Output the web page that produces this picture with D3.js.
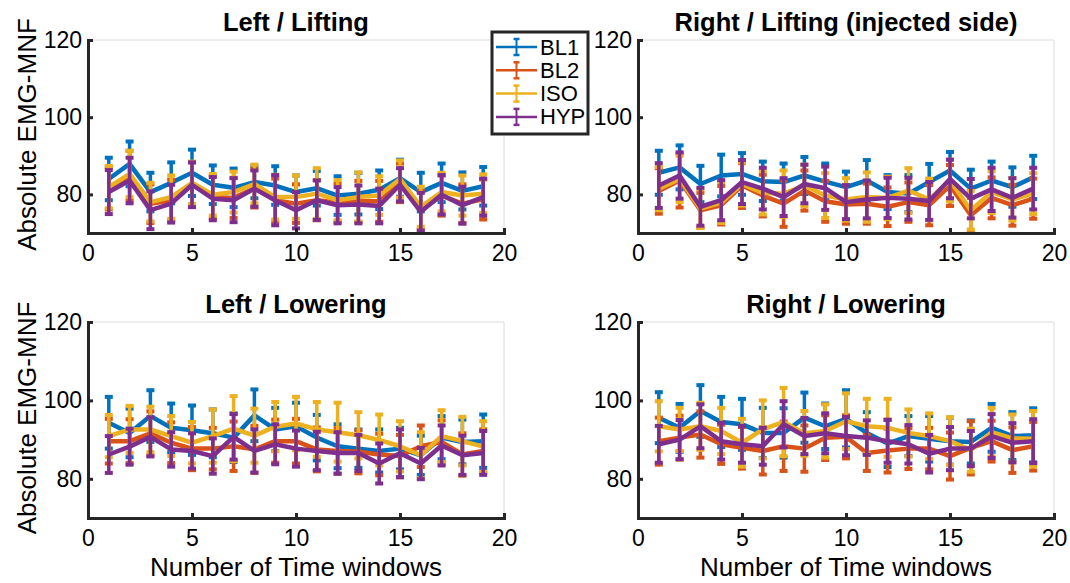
<!DOCTYPE html>
<html>
<head>
<meta charset="utf-8">
<script src="https://cdn.jsdelivr.net/npm/d3@7"></script>
<style>
  body { margin: 0; background: #fff; }
  text { font-family: "Liberation Sans", Arial, Helvetica, sans-serif; }
</style>
</head>
<body>
<svg id="chart" width="1070" height="583"></svg>
<script>
// ---- data -------------------------------------------------------------
const windows = [1, 2, 3, 4, 5, 6, 7, 8, 9, 10, 11, 12, 13, 14, 15, 16, 17, 18, 19];
const seriesNames = ["BL1", "BL2", "ISO", "HYP"];
const panelTitles = ["Left / Lifting", "Right / Lifting (injected side)", "Left / Lowering", "Right / Lowering"];
const xTickValues = [0, 5, 10, 15, 20];
const yTickValues = [80, 100, 120];
const yLabel = "Absolute EMG-MNF";
const xLabel = "Number of Time windows";

// Left / Lifting
const leftLiftBL1 = [84.0, 87.9, 80.6, 83.0, 85.6, 82.5, 81.7, 83.2, 82.3, 80.6, 81.6, 79.7, 80.2, 81.2, 84.2, 80.6, 83.0, 80.9, 82.1];
const leftLiftBL1Err = [5.5, 5.8, 5.0, 5.3, 6.0, 5.0, 5.0, 4.2, 5.0, 4.3, 4.5, 5.0, 5.4, 5.0, 4.8, 5.0, 5.0, 4.8, 5.0];
const leftLiftBL2 = [81.6, 84.9, 77.6, 78.5, 82.7, 79.3, 79.1, 81.6, 78.5, 77.6, 78.5, 77.9, 78.2, 78.2, 83.0, 75.9, 79.7, 77.6, 78.7];
const leftLiftBL2Err = [5.5, 6.4, 5.0, 5.3, 5.6, 5.5, 5.2, 5.0, 5.6, 5.0, 5.2, 5.0, 5.3, 5.3, 5.0, 5.0, 5.2, 5.0, 5.2];
const leftLiftISO = [81.9, 85.3, 78.0, 79.3, 83.0, 79.9, 80.6, 82.7, 79.3, 79.3, 80.2, 78.5, 79.3, 79.7, 84.0, 76.8, 80.6, 79.7, 80.2];
const leftLiftISOErr = [5.5, 6.0, 5.0, 5.6, 5.5, 5.4, 5.3, 5.0, 5.8, 5.6, 6.6, 5.2, 6.4, 5.0, 4.8, 5.2, 5.0, 5.2, 5.0];
const leftLiftHYP = [80.6, 83.6, 75.9, 77.6, 82.5, 78.9, 78.5, 81.5, 78.5, 75.9, 78.5, 77.2, 77.4, 77.0, 82.5, 75.5, 79.9, 77.2, 79.3];
const leftLiftHYPErr = [5.7, 5.9, 4.9, 4.9, 5.8, 5.6, 5.7, 4.7, 6.5, 4.7, 5.1, 4.7, 4.9, 4.5, 4.3, 4.9, 5.1, 4.8, 4.8];

// Right / Lifting (injected side)
const rightLiftBL1 = [85.6, 87.0, 82.7, 84.9, 85.3, 83.4, 83.2, 84.9, 83.3, 81.9, 83.6, 80.6, 80.2, 83.2, 86.2, 81.5, 83.6, 81.9, 84.4];
const rightLiftBL1Err = [5.7, 5.7, 4.7, 5.4, 5.4, 5.1, 4.8, 4.8, 4.7, 4.0, 5.3, 4.4, 4.8, 4.7, 4.8, 4.9, 4.9, 5.1, 5.6];
const rightLiftBL2 = [80.9, 83.6, 75.9, 77.2, 82.3, 79.7, 77.6, 81.0, 78.2, 77.4, 77.6, 76.8, 78.0, 77.2, 82.3, 74.6, 79.1, 77.2, 78.9];
const rightLiftBL2Err = [5.9, 7.0, 4.5, 5.0, 5.8, 5.4, 6.0, 5.2, 5.3, 5.0, 5.2, 5.0, 5.1, 5.2, 5.3, 4.5, 5.3, 5.3, 5.2];
const rightLiftISO = [81.5, 84.0, 76.3, 77.9, 82.7, 80.4, 80.2, 82.3, 79.7, 78.7, 79.3, 79.1, 81.0, 78.7, 83.6, 75.9, 80.6, 78.7, 80.2];
const rightLiftISOErr = [5.6, 6.0, 5.0, 5.3, 5.6, 5.6, 6.0, 5.4, 5.8, 5.5, 6.4, 5.5, 5.8, 5.4, 5.4, 5.0, 5.4, 5.5, 5.3];
const rightLiftHYP = [82.3, 84.9, 76.8, 78.5, 83.2, 81.5, 79.3, 82.7, 81.6, 78.0, 78.7, 79.1, 78.9, 78.3, 84.0, 78.9, 81.3, 79.1, 81.5];
const rightLiftHYPErr = [5.8, 6.0, 4.9, 5.2, 5.7, 5.4, 4.9, 5.0, 5.6, 4.4, 4.9, 5.2, 5.4, 4.9, 5.0, 5.1, 5.6, 5.1, 5.4];

// Left / Lowering
const leftLowBL1 = [94.3, 91.7, 96.0, 93.0, 92.4, 91.6, 90.5, 96.2, 92.6, 93.4, 90.5, 88.3, 87.7, 87.1, 87.7, 86.0, 90.5, 89.4, 89.6];
const leftLowBL1Err = [6.6, 6.2, 6.6, 6.2, 6.3, 6.1, 6.2, 6.6, 5.5, 6.0, 5.8, 5.6, 4.9, 5.5, 5.3, 5.0, 5.5, 5.7, 6.8];
const leftLowBL2 = [89.6, 89.6, 91.6, 89.2, 87.7, 87.7, 88.3, 87.5, 89.6, 89.6, 87.5, 87.1, 86.9, 86.2, 85.8, 88.3, 89.4, 86.2, 87.1];
const leftLowBL2Err = [5.7, 5.6, 5.6, 5.2, 5.5, 5.3, 6.3, 6.0, 5.5, 5.7, 5.6, 5.8, 5.5, 5.3, 5.4, 5.3, 5.5, 5.4, 5.5];
const leftLowISO = [90.9, 92.6, 92.6, 90.9, 89.2, 90.9, 92.8, 91.0, 93.3, 94.1, 92.6, 91.9, 91.1, 89.9, 88.3, 86.0, 90.9, 89.6, 88.2];
const leftLowISOErr = [5.4, 6.0, 5.8, 5.1, 5.3, 6.8, 8.3, 6.9, 6.3, 6.8, 7.0, 7.5, 5.9, 6.5, 6.4, 5.9, 6.6, 6.2, 6.5];
const leftLowHYP = [86.2, 88.2, 90.7, 87.5, 87.1, 85.8, 90.7, 87.1, 88.8, 87.7, 87.1, 86.6, 86.6, 83.9, 86.5, 83.9, 88.5, 86.0, 86.6];
const leftLowHYPErr = [4.7, 4.6, 5.0, 4.4, 4.5, 4.5, 5.8, 5.5, 5.1, 4.6, 4.9, 5.3, 4.6, 5.1, 6.1, 4.0, 5.1, 5.0, 5.6];

// Right / Lowering
const rightLowBL1 = [95.6, 93.0, 97.3, 94.5, 93.9, 91.7, 91.7, 95.6, 93.4, 95.3, 91.7, 89.0, 90.9, 90.2, 89.6, 89.4, 93.0, 90.9, 91.1];
const rightLowBL1Err = [6.5, 6.1, 6.6, 6.4, 6.5, 6.4, 6.3, 6.4, 5.8, 7.3, 5.3, 6.0, 5.1, 5.8, 6.0, 5.5, 6.1, 6.1, 6.9];
const rightLowBL2 = [89.6, 90.5, 91.3, 88.8, 87.9, 87.1, 88.3, 87.7, 90.5, 90.7, 86.6, 87.2, 87.7, 87.7, 85.8, 87.9, 89.6, 87.3, 88.3];
const rightLowBL2Err = [6.0, 5.6, 5.9, 5.0, 5.3, 6.0, 6.3, 5.9, 5.7, 5.5, 4.6, 5.6, 5.2, 5.3, 6.0, 6.8, 5.2, 5.8, 6.2];
const rightLowISO = [93.4, 92.6, 93.4, 92.2, 89.2, 92.6, 94.5, 91.6, 92.2, 94.7, 93.4, 93.0, 91.7, 90.9, 89.6, 87.3, 91.9, 90.3, 90.2];
const rightLowISOErr = [6.4, 5.5, 6.0, 5.9, 6.1, 7.4, 8.7, 5.7, 6.8, 7.1, 7.0, 7.4, 6.0, 5.8, 6.1, 5.5, 6.2, 6.1, 7.1];
const rightLowHYP = [88.8, 90.0, 93.4, 89.6, 88.8, 88.3, 93.9, 90.9, 91.6, 90.9, 90.5, 89.6, 88.8, 86.4, 87.7, 87.7, 90.9, 89.2, 89.6];
const rightLowHYPErr = [4.7, 5.0, 5.6, 4.7, 4.7, 4.7, 5.9, 4.6, 5.1, 4.9, 4.4, 5.5, 4.9, 4.8, 5.5, 4.5, 5.6, 5.0, 5.6];

// ---- appearance -------------------------------------------------------
const seriesColors = ["#0072BD", "#D95319", "#EDB120", "#7E2F8E"];
const axisColor = "#262626";
const boxColor = "#dcdcdc";

const panelData = [
  [[leftLiftBL1, leftLiftBL1Err], [leftLiftBL2, leftLiftBL2Err], [leftLiftISO, leftLiftISOErr], [leftLiftHYP, leftLiftHYPErr]],
  [[rightLiftBL1, rightLiftBL1Err], [rightLiftBL2, rightLiftBL2Err], [rightLiftISO, rightLiftISOErr], [rightLiftHYP, rightLiftHYPErr]],
  [[leftLowBL1, leftLowBL1Err], [leftLowBL2, leftLowBL2Err], [leftLowISO, leftLowISOErr], [leftLowHYP, leftLowHYPErr]],
  [[rightLowBL1, rightLowBL1Err], [rightLowBL2, rightLowBL2Err], [rightLowISO, rightLowISOErr], [rightLowHYP, rightLowHYPErr]]
];

// axes frames in pixels: left, right, top, bottom
const frames = [
  { left: 88, right: 504, top: 40, bottom: 233 },
  { left: 638, right: 1054, top: 40, bottom: 233 },
  { left: 88, right: 504, top: 322, bottom: 518 },
  { left: 638, right: 1054, top: 322, bottom: 518 }
];

const svg = d3.select("#chart");
const defs = svg.append("defs");

frames.forEach((f, pi) => {
  const x = d3.scaleLinear().domain([0, 20]).range([f.left, f.right]);
  const y = d3.scaleLinear().domain([70, 120]).range([f.bottom, f.top]);
  const g = svg.append("g");

  // light box on top/right
  g.append("path")
    .attr("d", `M${f.left},${f.top}H${f.right}V${f.bottom}`)
    .attr("fill", "none").attr("stroke", boxColor).attr("stroke-width", 1);

  // clip region for the data
  const clipId = "clip" + pi;
  defs.append("clipPath").attr("id", clipId)
    .append("rect")
    .attr("x", f.left).attr("y", f.top)
    .attr("width", f.right - f.left).attr("height", f.bottom - f.top);

  const plot = g.append("g").attr("clip-path", `url(#${clipId})`);
  const line = d3.line().x((d, i) => x(windows[i])).y(d => y(d));

  panelData[pi].forEach(([means, errs], si) => {
    const col = seriesColors[si];
    const sg = plot.append("g");
    sg.append("path")
      .attr("d", line(means))
      .attr("fill", "none").attr("stroke", col)
      .attr("stroke-width", 4.5).attr("stroke-linejoin", "round");
    means.forEach((m, i) => {
      const cx = x(windows[i]);
      const yt = y(m + errs[i]), yb = y(m - errs[i]);
      sg.append("line").attr("x1", cx).attr("x2", cx).attr("y1", yt).attr("y2", yb)
        .attr("stroke", col).attr("stroke-width", 3.5);
      [yt, yb].forEach(yy => {
        sg.append("line").attr("x1", cx - 4).attr("x2", cx + 4).attr("y1", yy).attr("y2", yy)
          .attr("stroke", col).attr("stroke-width", 4);
      });
    });
  });

  // axes
  const xAxis = d3.axisBottom(x).tickValues(xTickValues).tickSizeInner(-5).tickSizeOuter(0).tickPadding(12);
  const yAxis = d3.axisLeft(y).tickValues(yTickValues).tickSizeInner(-5).tickSizeOuter(0).tickPadding(6);

  const gx = g.append("g").attr("transform", `translate(0,${f.bottom})`).call(xAxis);
  const gy = g.append("g").attr("transform", `translate(${f.left},0)`).call(yAxis);
  [gx, gy].forEach(ax => {
    ax.select(".domain").attr("stroke", axisColor).attr("stroke-width", 3).attr("stroke-linecap", "square");
    ax.selectAll(".tick line").attr("stroke", axisColor).attr("stroke-width", 3);
    ax.selectAll(".tick text").attr("fill", "#000").style("font-size", "23px")
      .style("font-family", "'Liberation Sans', Arial, sans-serif");
  });

  // title
  g.append("text")
    .attr("x", (f.left + f.right) / 2).attr("y", f.top - 9)
    .attr("text-anchor", "middle")
    .style("font-size", "25.5px").style("font-weight", "bold")
    .attr("fill", "#000")
    .text(panelTitles[pi]);

  // axis labels
  if (pi % 2 === 0) {
    g.append("text")
      .attr("transform", `translate(27,${(f.top + f.bottom) / 2 - 2}) rotate(-90)`)
      .attr("text-anchor", "middle").attr("dominant-baseline", "central")
      .style("font-size", "26px").attr("fill", "#000")
      .text(yLabel);
  }
  if (pi >= 2) {
    g.append("text")
      .attr("x", (f.left + f.right) / 2).attr("y", 576)
      .attr("text-anchor", "middle")
      .style("font-size", "26px").attr("fill", "#000")
      .text(xLabel);
  }
});

// ---- legend -------------------------------------------------------------
const legend = svg.append("g");
legend.append("rect")
  .attr("x", 492).attr("y", 32).attr("width", 96).attr("height", 102)
  .attr("fill", "#fff").attr("stroke", axisColor).attr("stroke-width", 3);

seriesNames.forEach((name, i) => {
  const cy = 47 + i * 23.3;
  const col = seriesColors[i];
  legend.append("line").attr("x1", 496).attr("x2", 537).attr("y1", cy).attr("y2", cy)
    .attr("stroke", col).attr("stroke-width", 2.5);
  legend.append("line").attr("x1", 516.5).attr("x2", 516.5).attr("y1", cy - 8).attr("y2", cy + 8)
    .attr("stroke", col).attr("stroke-width", 2);
  [cy - 8, cy + 8].forEach(yy => {
    legend.append("line").attr("x1", 513.5).attr("x2", 519.5).attr("y1", yy).attr("y2", yy)
      .attr("stroke", col).attr("stroke-width", 2.5);
  });
  legend.append("text")
    .attr("x", 540).attr("y", cy).attr("dominant-baseline", "central")
    .style("font-size", "22px").attr("fill", "#000")
    .text(name);
});
</script>
</body>
</html>
